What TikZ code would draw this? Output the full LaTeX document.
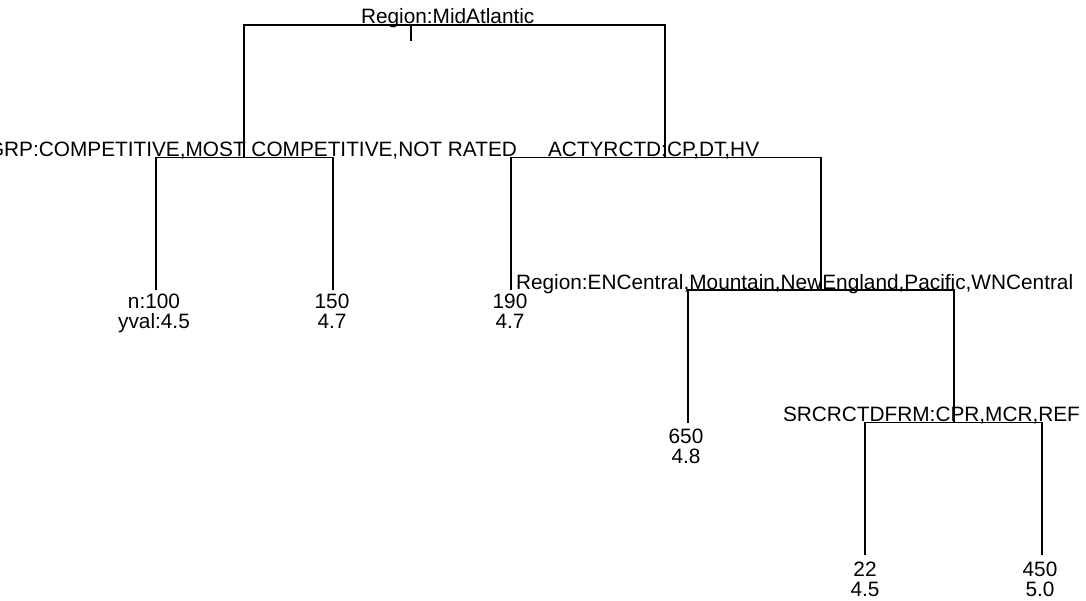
\documentclass[tikz,border=0pt]{standalone}
\usepackage{fontspec}
\setmainfont{Liberation Sans}
\begin{document}
\begin{tikzpicture}[x=1pt,y=-1pt,
  branch/.style={line width=1.3pt,black},
  lbl/.style={inner sep=0pt,outer sep=0pt,font=\fontsize{20.8}{24}\selectfont},
  splitlbl/.style={lbl,anchor=base west},
  leaflbl/.style={lbl,anchor=base}]
\useasboundingbox (0,0) rectangle (1086,600);
\clip (0,0) rectangle (1086,600);
\fill[white] (0,0) rectangle (1086,600);

% tree nodes
\coordinate (root) at (411,25);
\coordinate (grp)  at (244,157.5);
\coordinate (act)  at (665,157.5);
\coordinate (lf1)  at (156,290);
\coordinate (lf2)  at (333,290);
\coordinate (lf3)  at (511,290);
\coordinate (reg)  at (821,290);
\coordinate (lf4)  at (688,422.5);
\coordinate (src)  at (954,422.5);
\coordinate (lf5)  at (865,555);
\coordinate (lf6)  at (1042,555);
\coordinate (stub) at (411,41);

% branches
\draw[branch] (root) -- (stub);
\draw[branch] (grp) |- (root) -| (act);
\draw[branch] (lf1) |- (grp) -| (lf2);
\draw[branch] (lf3) |- (act) -| (reg);
\draw[branch] (lf4) |- (reg) -| (src);
\draw[branch] (lf5) |- (src) -| (lf6);

% split labels
\node[splitlbl] (troot) at (361,23) {Region:MidAtlantic};
\node[splitlbl] (tgrp)  at (-12,156.5) {GRP:COMPETITIVE,MOST COMPETITIVE,NOT RATED};
\node[splitlbl] (tact)  at (548,156.5) {ACTYRCTD:CP,DT,HV};
\node[splitlbl] (treg)  at (516,289) {Region:ENCentral,Mountain,NewEngland,Pacific,WNCentral};
\node[splitlbl] (tsrc)  at (783,421.5) {SRCRCTDFRM:CPR,MCR,REF};

% leaf labels: count and fitted value
\node[leaflbl] (n1) at (154,308) {n:100};
\node[leaflbl] (v1) at (154,328) {yval:4.5};
\node[leaflbl] (n2) at (332,308) {150};
\node[leaflbl] (v2) at (332,328) {4.7};
\node[leaflbl] (n3) at (510,308) {190};
\node[leaflbl] (v3) at (510,328) {4.7};
\node[leaflbl] (n4) at (686,443.5) {650};
\node[leaflbl] (v4) at (686,463.5) {4.8};
\node[leaflbl] (n5) at (865,576) {22};
\node[leaflbl] (v5) at (865,596) {4.5};
\node[leaflbl] (n6) at (1040,576) {450};
\node[leaflbl] (v6) at (1040,596) {5.0};
\end{tikzpicture}
\end{document}
